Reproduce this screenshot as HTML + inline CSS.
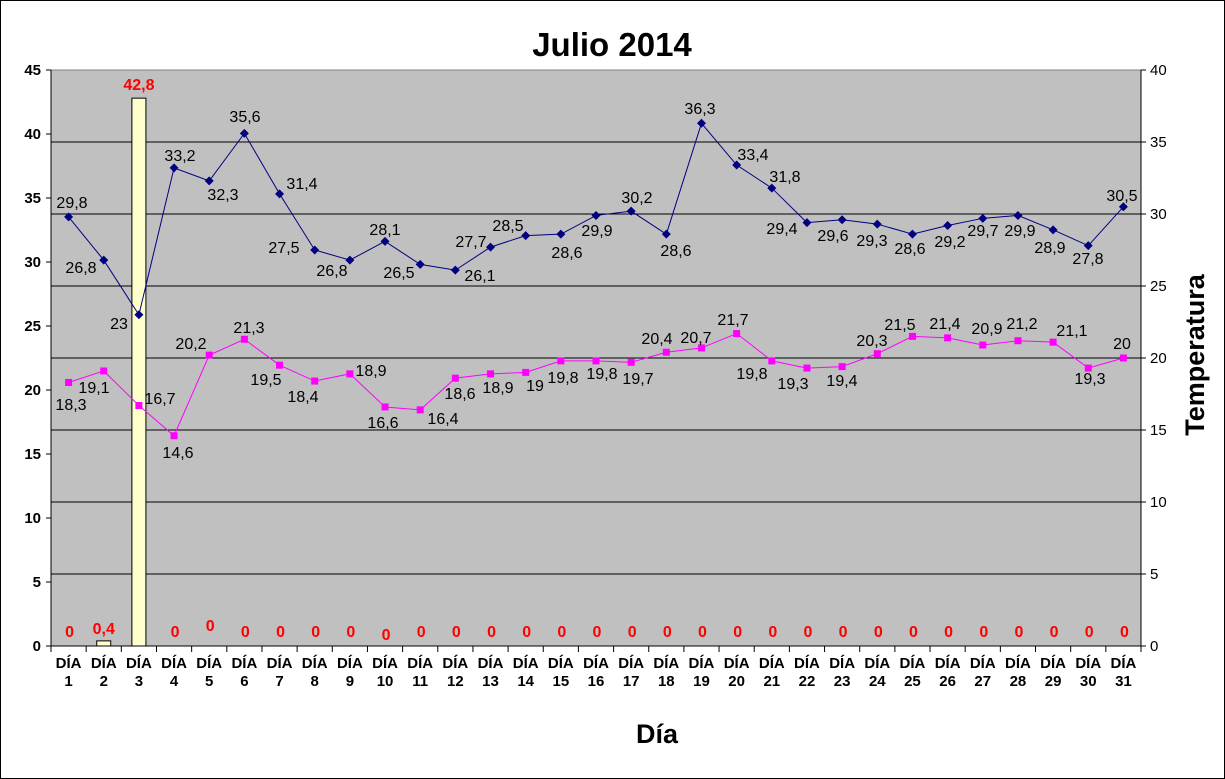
<!DOCTYPE html><html><head><meta charset="utf-8"><style>body{margin:0;background:#fff}svg{display:block}</style></head><body>
<svg id="s" width="1225" height="779" xmlns="http://www.w3.org/2000/svg" font-family="Liberation Sans, Arial, sans-serif"></svg>
<script>
const L=51,R=1141,T=70,B=646,W=R-L,cw=W/31;
const yl=v=>B-v*(B-T)/45, yr=v=>B-v*(B-T)/40, xc=i=>L+cw*(i+0.5);
const mx=[29.8,26.8,23,33.2,32.3,35.6,31.4,27.5,26.8,28.1,26.5,26.1,27.7,28.5,28.6,29.9,30.2,28.6,36.3,33.4,31.8,29.4,29.6,29.3,28.6,29.2,29.7,29.9,28.9,27.8,30.5];
const mn=[18.3,19.1,16.7,14.6,20.2,21.3,19.5,18.4,18.9,16.6,16.4,18.6,18.9,19,19.8,19.8,19.7,20.4,20.7,21.7,19.8,19.3,19.4,20.3,21.5,21.4,20.9,21.2,21.1,19.3,20];
const mxl=[[72,202],[81,267],[119,323],[180,155],[223,194],[245,116],[302,183],[284,247],[332,270],[385,229],[399,272],[480,275],[471,241],[508,225],[567,252],[597,230],[637,197],[676,250],[700,108],[753,154],[785,176],[782,228],[833,235],[872,240],[910,248],[950,241],[983,230],[1020,230],[1050,247],[1088,258],[1122,195]];
const mnl=[[71,404],[94,387],[160,398],[178,452],[191,343],[249,327],[266,379],[303,396],[371,370],[383,422],[443,418],[460,393],[498,387],[535,385],[563,377],[602,373],[638,378],[657,338],[696,337],[733,319],[752,373],[793,383],[842,380],[872,340],[900,324],[945,323],[987,328],[1022,323],[1072,330],[1090,378],[1122,343]];
let h='<rect x="0.5" y="0.5" width="1224" height="778" fill="#fff" stroke="#000"/>';
h+=`<rect x="${L}" y="${T}" width="${W}" height="${B-T}" fill="#c0c0c0" stroke="#808080"/>`;
for(let v=5;v<40;v+=5)h+=`<line x1="${L}" x2="${R}" y1="${yr(v)}" y2="${yr(v)}" stroke="#000" stroke-width="1"/>`;
// bars
const bw=14;
h+=`<rect x="${xc(1)-bw/2}" y="${yl(0.4)}" width="${bw}" height="${B-yl(0.4)}" fill="#ffffcc" stroke="#000"/>`;
h+=`<rect x="${xc(2)-bw/2}" y="${yl(42.8)}" width="${bw}" height="${B-yl(42.8)}" fill="#ffffcc" stroke="#000"/>`;
h+=`<line x1="${L}" x2="${L}" y1="${T}" y2="${B}" stroke="#000"/><line x1="${R}" x2="${R}" y1="${T}" y2="${B}" stroke="#000"/><line x1="${L}" x2="${R}" y1="${B}" y2="${B}" stroke="#000"/>`;
for(let v=0;v<=45;v+=5){const y=yl(v);h+=`<line x1="${L-5}" x2="${L}" y1="${y}" y2="${y}" stroke="#000"/><text x="${L-10}" y="${y+5}" text-anchor="end" font-size="15" font-weight="bold">${v}</text>`;}
for(let v=0;v<=40;v+=5){const y=yr(v);h+=`<line x1="${R}" x2="${R+5}" y1="${y}" y2="${y}" stroke="#000"/><text x="${R+9}" y="${y+5}" font-size="15">${v}</text>`;}
for(let i=0;i<=31;i++){const x=L+cw*i;h+=`<line x1="${x}" x2="${x}" y1="${B}" y2="${B+6}" stroke="#000"/>`;}
for(let i=0;i<31;i++){h+=`<text x="${xc(i)}" y="${B+22}" text-anchor="middle" font-size="15" font-weight="bold">DÍA</text><text x="${xc(i)}" y="${B+40}" text-anchor="middle" font-size="15" font-weight="bold">${i+1}</text>`;}
for(let i=0;i<31;i++){let t='0',y=637;if(i==1){t='0,4';y=634}else if(i==2){t='42,8';y=90}else if(i==4)y=631;else if(i==9)y=640;
h+=`<text x="${xc(i)+(i==1||i==2?0:1)}" y="${y}" text-anchor="middle" font-size="16" font-weight="bold" fill="#ff0000">${t}</text>`;}
h+=`<polyline fill="none" stroke="#000080" stroke-width="1" points="${mx.map((v,i)=>xc(i)+','+yr(v)).join(' ')}"/>`;
h+=`<polyline fill="none" stroke="#ff00ff" stroke-width="1" points="${mn.map((v,i)=>xc(i)+','+yr(v)).join(' ')}"/>`;
mx.forEach((v,i)=>{const x=xc(i),y=yr(v);h+=`<polygon points="${x},${y-4.5} ${x+4.5},${y} ${x},${y+4.5} ${x-4.5},${y}" fill="#000080"/>`;});
mn.forEach((v,i)=>{const x=xc(i),y=yr(v);h+=`<rect x="${x-3.5}" y="${y-3.5}" width="7" height="7" fill="#ff00ff"/>`;});
const f=v=>String(v).replace('.',',');
mx.forEach((v,i)=>{h+=`<text x="${mxl[i][0]}" y="${mxl[i][1]+6}" text-anchor="middle" font-size="16">${f(v)}</text>`;});
mn.forEach((v,i)=>{h+=`<text x="${mnl[i][0]}" y="${mnl[i][1]+6}" text-anchor="middle" font-size="16">${f(v)}</text>`;});
h+=`<text x="612" y="56" text-anchor="middle" font-size="33" font-weight="bold">Julio 2014</text>`;
h+=`<text x="657" y="743" text-anchor="middle" font-size="27" font-weight="bold">Día</text>`;
h+=`<text transform="translate(1204,355) rotate(-90)" text-anchor="middle" font-size="27" font-weight="bold">Temperatura</text>`;
document.getElementById('s').innerHTML=h;
</script>
</body></html>
